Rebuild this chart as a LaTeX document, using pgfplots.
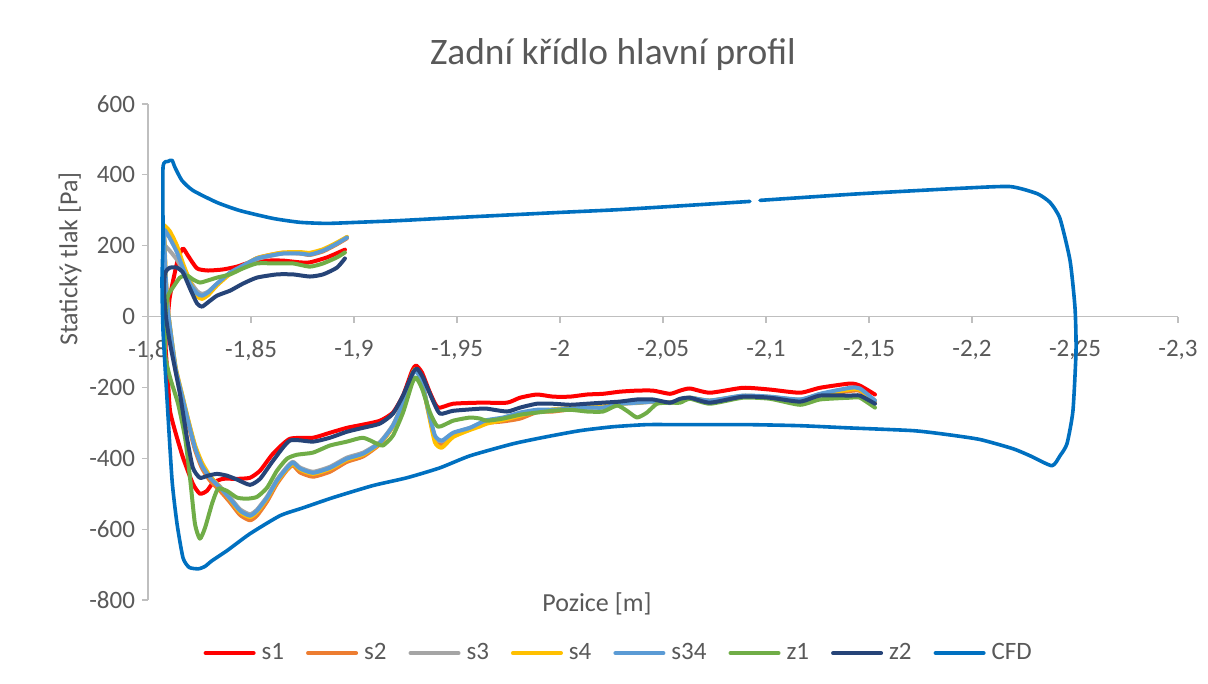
\documentclass[border=0pt]{standalone}
\usepackage{pgfplots}
\pgfplotsset{compat=1.18}
\usepackage{pgfplotstable}
\usepackage{fontspec}
\setmainfont{Carlito}
\definecolor{cs1}{HTML}{FF0000}
\definecolor{cs2}{HTML}{ED7D31}
\definecolor{cs3}{HTML}{A5A5A5}
\definecolor{cs4}{HTML}{FFC000}
\definecolor{cs34}{HTML}{5B9BD5}
\definecolor{cz1}{HTML}{70AD47}
\definecolor{cz2}{HTML}{264478}
\definecolor{ccfd}{HTML}{0070C0}
\definecolor{txt}{HTML}{595959}
\definecolor{axl}{HTML}{BFBFBF}

\pgfplotstableread{
x y
-1.8956 189
-1.8869 167
-1.8786 153
-1.8738 153
-1.8655 158
-1.8578 158
-1.8495 153
-1.8432 141
-1.8364 133
-1.8291 130
-1.8238 136
-1.8194 172
-1.8170 192
-1.8146 164
-1.8107 59
-1.8097 3
-1.8085 -76
-1.8097 -181
-1.8107 -266
-1.8131 -322
-1.8170 -398
-1.8218 -472
-1.8252 -500
-1.8286 -492
-1.8316 -469
-1.8364 -458
-1.8432 -458
-1.8495 -455
-1.8544 -435
-1.8607 -387
-1.8689 -345
-1.8801 -342
-1.8883 -328
-1.8966 -314
-1.9044 -305
-1.9126 -294
-1.9189 -271
-1.9238 -223
-1.9282 -153
-1.9301 -138
-1.9330 -158
-1.9369 -215
-1.9408 -257
-1.9481 -246
-1.9612 -243
-1.9743 -243
-1.9806 -229
-1.9888 -220
-1.9966 -226
-2.0049 -226
-2.0131 -220
-2.0209 -218
-2.0291 -212
-2.0374 -209
-2.0451 -209
-2.0534 -218
-2.0583 -209
-2.0631 -203
-2.0728 -215
-2.0888 -201
-2.1019 -206
-2.1165 -215
-2.1262 -201
-2.1408 -189
-2.1456 -195
-2.1529 -220
}\tsone

\pgfplotstableread{
x y
-1.8966 221
-1.8917 204
-1.8850 184
-1.8786 174
-1.8738 178
-1.8655 180
-1.8592 174
-1.8529 165
-1.8461 143
-1.8398 122
-1.8335 90
-1.8291 63
-1.8262 55
-1.8238 62
-1.8204 95
-1.8170 140
-1.8141 185
-1.8107 225
-1.8083 240
-1.8078 232
-1.8087 100
-1.8097 15
-1.8117 -80
-1.8136 -158
-1.8165 -228
-1.8194 -300
-1.8228 -376
-1.8262 -428
-1.8301 -463
-1.8350 -492
-1.8398 -524
-1.8447 -560
-1.8495 -575
-1.8529 -562
-1.8578 -522
-1.8626 -472
-1.8675 -433
-1.8704 -420
-1.8738 -440
-1.8801 -452
-1.8883 -438
-1.8966 -410
-1.9044 -395
-1.9126 -360
-1.9189 -310
-1.9238 -243
-1.9282 -165
-1.9301 -150
-1.9330 -184
-1.9359 -262
-1.9393 -345
-1.9427 -360
-1.9481 -334
-1.9563 -318
-1.9612 -306
-1.9646 -300
-1.9723 -296
-1.9806 -288
-1.9888 -270
-1.9966 -268
-2.0049 -262
-2.0131 -256
-2.0209 -255
-2.0291 -245
-2.0374 -242
-2.0451 -240
-2.0534 -242
-2.0583 -236
-2.0631 -230
-2.0728 -238
-2.0888 -225
-2.1019 -228
-2.1165 -236
-2.1262 -222
-2.1408 -210
-2.1456 -210
-2.1529 -240
}\tstwo

\pgfplotstableread{
x y
-1.8966 224
-1.8917 207
-1.8850 187
-1.8786 176
-1.8738 179
-1.8655 178
-1.8592 171
-1.8529 162
-1.8461 142
-1.8398 121
-1.8335 92
-1.8291 70
-1.8262 64
-1.8238 72
-1.8204 100
-1.8170 130
-1.8141 160
-1.8107 185
-1.8083 200
-1.8078 195
-1.8087 95
-1.8097 15
-1.8117 -76
-1.8136 -150
-1.8165 -220
-1.8194 -290
-1.8228 -366
-1.8262 -418
-1.8301 -452
-1.8350 -480
-1.8398 -510
-1.8447 -544
-1.8495 -558
-1.8529 -545
-1.8578 -508
-1.8626 -460
-1.8675 -424
-1.8704 -410
-1.8738 -426
-1.8801 -438
-1.8883 -424
-1.8966 -398
-1.9044 -384
-1.9126 -354
-1.9189 -306
-1.9238 -241
-1.9282 -164
-1.9301 -150
-1.9330 -184
-1.9359 -258
-1.9393 -340
-1.9427 -352
-1.9481 -330
-1.9563 -314
-1.9612 -302
-1.9646 -294
-1.9723 -287
-1.9806 -275
-1.9888 -266
-1.9966 -264
-2.0049 -260
-2.0131 -257
-2.0209 -257
-2.0291 -247
-2.0374 -244
-2.0451 -241
-2.0534 -244
-2.0583 -238
-2.0631 -230
-2.0728 -238
-2.0888 -224
-2.1019 -227
-2.1165 -235
-2.1262 -219
-2.1408 -204
-2.1456 -205
-2.1529 -238
}\tsthree

\pgfplotstableread{
x y
-1.8966 225
-1.8917 209
-1.8850 190
-1.8786 180
-1.8738 182
-1.8655 181
-1.8592 174
-1.8529 165
-1.8461 143
-1.8398 120
-1.8335 88
-1.8291 60
-1.8262 50
-1.8238 58
-1.8204 100
-1.8170 150
-1.8141 200
-1.8107 240
-1.8083 255
-1.8078 250
-1.8087 110
-1.8097 20
-1.8117 -72
-1.8136 -148
-1.8165 -218
-1.8194 -288
-1.8228 -362
-1.8262 -412
-1.8301 -450
-1.8350 -482
-1.8398 -516
-1.8447 -552
-1.8495 -566
-1.8529 -552
-1.8578 -514
-1.8626 -466
-1.8675 -430
-1.8704 -416
-1.8738 -432
-1.8801 -444
-1.8883 -430
-1.8966 -404
-1.9044 -390
-1.9126 -358
-1.9189 -310
-1.9238 -243
-1.9282 -163
-1.9301 -148
-1.9330 -184
-1.9359 -265
-1.9393 -355
-1.9427 -370
-1.9481 -340
-1.9563 -320
-1.9612 -310
-1.9646 -302
-1.9723 -292
-1.9806 -280
-1.9888 -268
-1.9966 -262
-2.0049 -258
-2.0131 -255
-2.0209 -254
-2.0291 -246
-2.0374 -243
-2.0451 -240
-2.0534 -243
-2.0583 -237
-2.0631 -229
-2.0728 -237
-2.0888 -224
-2.1019 -227
-2.1165 -235
-2.1262 -220
-2.1408 -206
-2.1456 -207
-2.1529 -238
}\tsfour

\pgfplotstableread{
x y
-1.8966 223
-1.8917 206
-1.8850 186
-1.8786 175
-1.8738 178
-1.8655 178
-1.8592 172
-1.8529 164
-1.8461 144
-1.8398 124
-1.8335 93
-1.8291 68
-1.8262 59
-1.8238 65
-1.8204 93
-1.8170 136
-1.8141 181
-1.8107 220
-1.8083 243
-1.8078 235
-1.8087 102
-1.8097 17
-1.8117 -76
-1.8136 -153
-1.8165 -223
-1.8194 -294
-1.8228 -370
-1.8262 -421
-1.8301 -455
-1.8350 -483
-1.8398 -514
-1.8447 -548
-1.8495 -562
-1.8529 -548
-1.8578 -511
-1.8626 -463
-1.8675 -427
-1.8704 -412
-1.8738 -429
-1.8801 -441
-1.8883 -427
-1.8966 -401
-1.9044 -387
-1.9126 -356
-1.9189 -308
-1.9238 -243
-1.9282 -167
-1.9301 -153
-1.9330 -186
-1.9359 -260
-1.9393 -336
-1.9427 -350
-1.9481 -328
-1.9563 -314
-1.9612 -300
-1.9646 -292
-1.9723 -285
-1.9806 -271
-1.9888 -263
-1.9966 -263
-2.0049 -260
-2.0131 -257
-2.0209 -257
-2.0291 -246
-2.0374 -243
-2.0451 -240
-2.0534 -243
-2.0583 -237
-2.0631 -229
-2.0728 -237
-2.0888 -223
-2.1019 -226
-2.1165 -234
-2.1262 -218
-2.1408 -201
-2.1456 -203
-2.1529 -237
}\tsthreefour

\pgfplotstableread{
x y
-1.8956 181
-1.8917 167
-1.8850 150
-1.8786 141
-1.8704 150
-1.8626 150
-1.8529 150
-1.8461 136
-1.8398 119
-1.8335 110
-1.8291 102
-1.8252 96
-1.8218 105
-1.8189 116
-1.8155 110
-1.8121 82
-1.8097 59
-1.8087 17
-1.8083 -105
-1.8107 -172
-1.8146 -246
-1.8180 -342
-1.8204 -455
-1.8228 -585
-1.8252 -627
-1.8277 -596
-1.8311 -528
-1.8340 -486
-1.8383 -492
-1.8432 -511
-1.8481 -514
-1.8529 -509
-1.8578 -483
-1.8626 -435
-1.8675 -401
-1.8723 -390
-1.8801 -384
-1.8883 -364
-1.8966 -353
-1.9044 -342
-1.9112 -359
-1.9141 -364
-1.9189 -336
-1.9238 -271
-1.9282 -189
-1.9301 -172
-1.9330 -203
-1.9369 -271
-1.9408 -311
-1.9481 -294
-1.9563 -285
-1.9612 -288
-1.9646 -294
-1.9723 -288
-1.9806 -277
-1.9888 -271
-1.9966 -266
-2.0049 -263
-2.0131 -268
-2.0209 -268
-2.0277 -251
-2.0325 -266
-2.0374 -285
-2.0422 -271
-2.0471 -246
-2.0534 -243
-2.0583 -243
-2.0631 -232
-2.0728 -246
-2.0888 -229
-2.1019 -232
-2.1165 -249
-2.1262 -234
-2.1408 -229
-2.1456 -229
-2.1529 -257
}\tzone

\pgfplotstableread{
x y
-1.8956 164
-1.8917 138
-1.8850 119
-1.8786 113
-1.8704 119
-1.8626 119
-1.8529 110
-1.8461 93
-1.8398 73
-1.8335 59
-1.8291 40
-1.8262 28
-1.8238 37
-1.8204 79
-1.8170 124
-1.8141 138
-1.8107 138
-1.8083 124
-1.8078 73
-1.8087 0
-1.8107 -76
-1.8155 -218
-1.8189 -342
-1.8218 -427
-1.8252 -455
-1.8291 -449
-1.8335 -444
-1.8383 -449
-1.8432 -460
-1.8495 -475
-1.8544 -458
-1.8607 -407
-1.8689 -350
-1.8801 -353
-1.8883 -342
-1.8966 -325
-1.9044 -314
-1.9126 -302
-1.9189 -274
-1.9238 -223
-1.9286 -158
-1.9306 -147
-1.9335 -172
-1.9379 -232
-1.9417 -274
-1.9481 -266
-1.9612 -260
-1.9646 -260
-1.9743 -268
-1.9806 -257
-1.9888 -246
-1.9966 -246
-2.0049 -249
-2.0131 -246
-2.0209 -243
-2.0291 -240
-2.0374 -234
-2.0451 -234
-2.0534 -243
-2.0583 -232
-2.0631 -229
-2.0728 -243
-2.0888 -226
-2.1019 -229
-2.1165 -240
-2.1262 -223
-2.1408 -223
-2.1456 -223
-2.1529 -246
}\tztwo

\pgfplotstableread{
x y
-2.0971 328
-2.1408 345
-2.1650 353
-2.1942 362
-2.2184 367
-2.2316 347
-2.2379 322
-2.2427 277
-2.2476 158
-2.2500 25
-2.2505 -96
-2.2490 -266
-2.2461 -359
-2.2427 -393
-2.2388 -421
-2.2282 -393
-2.2199 -373
-2.2039 -347
-2.1879 -333
-2.1714 -322
-2.1393 -314
-2.1165 -308
-2.0908 -305
-2.0583 -305
-2.0422 -305
-2.0257 -311
-2.0097 -322
-1.9937 -339
-1.9772 -359
-1.9563 -393
-1.9417 -427
-1.9257 -455
-1.9092 -477
-1.8898 -511
-1.8752 -540
-1.8641 -562
-1.8495 -613
-1.8383 -661
-1.8311 -689
-1.8277 -705
-1.8245 -712
-1.8200 -708
-1.8170 -681
-1.8141 -585
-1.8117 -463
-1.8092 -229
-1.8073 -40
-1.8068 100
-1.8073 215
-1.8073 421
-1.8097 438
-1.8117 441
-1.8131 421
-1.8165 384
-1.8218 356
-1.8335 322
-1.8447 299
-1.8607 277
-1.8738 266
-1.8869 263
-1.9015 266
-1.9223 271
-1.9515 280
-2.0000 294
-2.0291 302
-2.0680 316
-2.0922 325
}\tcfd

\begin{document}
\begin{tikzpicture}
\useasboundingbox (0,0) rectangle (604pt,342pt);
\begin{axis}[
  at={(74pt,42pt)}, anchor=south west,
  scale only axis, width=515pt, height=248pt,
  xmin=-2.3, xmax=-1.8, ymin=-800, ymax=600,
  x dir=reverse,
  axis x line*=middle, axis y line*=left,
  hide obscured x ticks=false, hide obscured y ticks=false,
  axis line style={draw=axl, line width=0.6pt},
  xtick={-2.3,-2.25,-2.2,-2.15,-2.1,-2.05,-2,-1.95,-1.9,-1.85,-1.8},
  xticklabels={{-2,3},{-2,25},{-2,2},{-2,15},{-2,1},{-2,05},{-2},{-1,95},{-1,9},{-1,85},{-1,8}},
  ytick={-800,-600,-400,-200,0,200,400,600},
  yticklabels={-800,-600,-400,-200,0,200,400,600},
  tick style={draw=axl, line width=0.6pt},
  major tick length=3pt,
  tick align=outside,
  ticklabel style={font=\fontsize{12.5}{14}\selectfont, text=txt},
  xticklabel style={yshift=-5.5pt},
  legend columns=8,
  legend style={at={(0.458,-0.107)}, anchor=center, draw=none, fill=none,
    font=\fontsize{12.5}{14}\selectfont, text=txt,
    /tikz/every odd column/.append style={column sep=1pt},
    /tikz/every even column/.append style={column sep=9pt}},
  legend cell align=left,
  legend image code/.code={\draw[#1, line width=2pt, line cap=round] (0pt,0pt) -- (24pt,0pt);},
  every axis plot/.append style={smooth, tension=0.35, line join=round, line cap=round},
]
\addplot[cs1, line width=2pt] table[x=x,y=y] {\tsone};
\addlegendentry{s1}
\addplot[cs2, line width=2pt] table[x=x,y=y] {\tstwo};
\addlegendentry{s2}
\addplot[cs3, line width=2pt] table[x=x,y=y] {\tsthree};
\addlegendentry{s3}
\addplot[cs4, line width=2pt] table[x=x,y=y] {\tsfour};
\addlegendentry{s4}
\addplot[cs34, line width=2pt] table[x=x,y=y] {\tsthreefour};
\addlegendentry{s34}
\addplot[cz1, line width=2pt] table[x=x,y=y] {\tzone};
\addlegendentry{z1}
\addplot[cz2, line width=2pt] table[x=x,y=y] {\tztwo};
\addlegendentry{z2}
\addplot[ccfd, line width=1.8pt] table[x=x,y=y] {\tcfd};
\addlegendentry{CFD}
\end{axis}
\node[text=txt, font=\fontsize{18.7}{21}\selectfont] at (306.5pt,314.5pt) {Zadní křídlo hlavní profil};
\node[text=txt, font=\fontsize{13}{15}\selectfont, rotate=90] at (35pt,212.5pt) {Statický tlak [Pa]};
\node[text=txt, font=\fontsize{13}{15}\selectfont] at (298.5pt,40pt) {Pozice [m]};
\end{tikzpicture}
\end{document}
